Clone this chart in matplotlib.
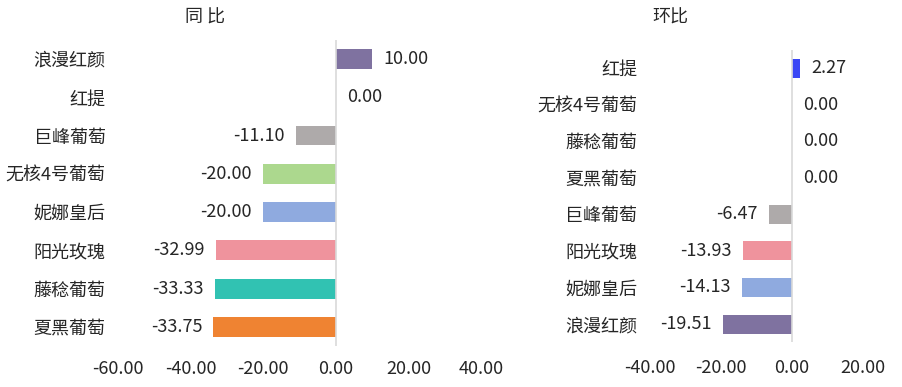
import matplotlib
matplotlib.use("Agg")
from matplotlib import pyplot as plt
from matplotlib.ticker import FormatStrFormatter

plt.rcParams['font.family'] = ['Noto Sans CJK SC', 'DejaVu Sans']

# 同比
yoy_names = ["浪漫红颜", "红提", "巨峰葡萄", "无核4号葡萄", "妮娜皇后", "阳光玫瑰", "藤稔葡萄", "夏黑葡萄"]
yoy_vals = [10.00, 0.00, -11.10, -20.00, -20.00, -32.99, -33.33, -33.75]
yoy_colors = ["#7f72a0", "#3a46f5", "#aeaaaa", "#acd88e", "#8faadf", "#ef939d", "#31c2b2", "#ef8332"]

# 环比
mom_names = ["红提", "无核4号葡萄", "藤稔葡萄", "夏黑葡萄", "巨峰葡萄", "阳光玫瑰", "妮娜皇后", "浪漫红颜"]
mom_vals = [2.27, 0.00, 0.00, 0.00, -6.47, -13.93, -14.13, -19.51]
mom_colors = ["#3a46f5", "#acd88e", "#31c2b2", "#ef8332", "#aeaaaa", "#ef939d", "#8faadf", "#7f72a0"]

txt = "#262626"
fs = 13

fig = plt.figure(figsize=(9.03, 3.87), dpi=100)


def draw(ax, names, vals, colors, xlim, ticks):
    pos = list(range(len(names)))[::-1]
    ax.barh(pos, vals, height=0.52, color=colors)
    for p, v in zip(pos, vals):
        if v >= 0:
            ax.annotate("%.2f" % v, (v, p), xytext=(8, 0), textcoords="offset points",
                        ha="left", va="center", fontsize=fs, color=txt)
        else:
            ax.annotate("%.2f" % v, (v, p), xytext=(-8, 0), textcoords="offset points",
                        ha="right", va="center", fontsize=fs, color=txt)
    ax.set_yticks(pos)
    ax.set_yticklabels(names)
    ax.set_ylim(-0.5, len(names) - 0.5)
    ax.set_xlim(*xlim)
    ax.set_xticks(ticks)
    ax.xaxis.set_major_formatter(FormatStrFormatter("%.2f"))
    ax.tick_params(axis="both", length=0, labelsize=fs, labelcolor=txt)
    ax.tick_params(axis="y", pad=230 if False else 0)
    for s in ax.spines.values():
        s.set_visible(False)
    ax.axvline(0, color="#d9d9d9", lw=1.2)
    ax.set_facecolor("none")


ax1 = fig.add_axes([0.1307, 0.106, 0.402, 0.791])
draw(ax1, yoy_names, yoy_vals, yoy_colors, (-60, 40), [-60, -40, -20, 0, 20, 40])
ax1.tick_params(axis="y", pad=9)
ax1.tick_params(axis="x", pad=10)

ax2 = fig.add_axes([0.7198, 0.1155, 0.2359, 0.756])
draw(ax2, mom_names, mom_vals, mom_colors, (-40, 20), [-40, -20, 0, 20])
ax2.tick_params(axis="y", pad=9)
ax2.tick_params(axis="x", pad=12)

fig.text(205 / 903, 1 - 18 / 387, "同 比", ha="center", va="center", fontsize=fs, color=txt)
fig.text(670 / 903, 1 - 18 / 387, "环比", ha="center", va="center", fontsize=fs, color=txt)

fig.savefig("out.png", dpi=100)
